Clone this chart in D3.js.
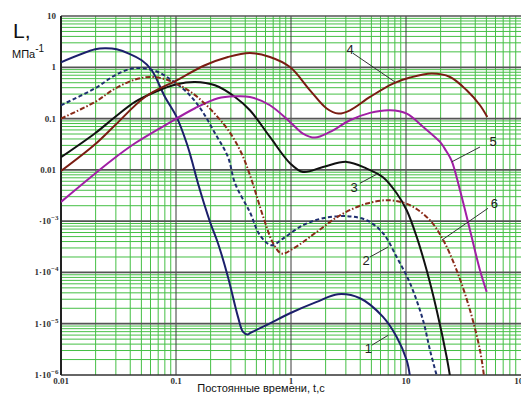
<!DOCTYPE html>
<html><head><meta charset="utf-8">
<script src="https://cdn.jsdelivr.net/npm/d3@7"></script>
<style>body{margin:0;background:#fff;}svg{display:block;}</style>
</head><body>
<svg id="c" width="521" height="394"></svg>
<script>
// ---- data (t in s, L in MPa^-1) ----
const c1_t = [0.01,0.0198,0.0241,0.0305,0.0503,0.0615,0.0802,0.1014,0.1239,0.1371,0.1552,0.1977,0.2317,0.2831,0.3459,0.3829,0.4198,0.4395,0.6562,0.98,1.673,2.563,3.981,6.31,8.299,10.14,10.84];
const c1_L = [1.25,2.24,2.35,2.24,1.37,0.874,0.264,0.107,0.0330,0.0154,0.00548,0.000964,0.000371,8.17e-5,1.36e-5,6.92e-6,6.16e-6,6.53e-6,1.02e-5,1.60e-5,2.66e-5,3.76e-5,3.14e-5,1.36e-5,5.53e-6,1.94e-6,9.2e-7];
const c2_t = [0.01,0.0198,0.0295,0.0412,0.0538,0.0697,0.0918,0.1271,0.1671,0.2183,0.2831,0.3259,0.4395,0.537,0.6786,0.8513,1.271,1.898,3.05,4.553,6.31,8.299,10.84,14.06,16.17,18.62];
const c2_L = [0.182,0.390,0.698,0.944,0.944,0.810,0.558,0.311,0.145,0.0517,0.0178,0.00548,0.00149,0.000531,0.000339,0.000458,0.000832,0.00114,0.00125,0.00104,0.000581,0.000200,6.15e-5,1.17e-5,3.04e-6,9.2e-7];
const c3_t = [0.01,0.0198,0.0295,0.044,0.0657,0.1014,0.1462,0.2183,0.3259,0.4395,0.6562,0.98,1.271,1.898,3.05,4.553,6.31,8.299,10.14,12.39,15.13,18.49,22.57,24.13];
const c3_L = [0.0176,0.0517,0.107,0.211,0.330,0.466,0.517,0.446,0.264,0.145,0.0438,0.0135,0.00910,0.0114,0.0143,0.0106,0.00718,0.00350,0.00163,0.000492,0.000110,1.83e-5,2.25e-6,9.5e-7];
const c4_t = [0.01,0.0198,0.0295,0.0538,0.1014,0.1786,0.2831,0.4395,0.6562,0.98,1.463,2.043,2.578,3.26,4.864,7.709,10.84,16.73,24.13,33.72,43.99,50.92];
const c4_L = [0.0095,0.0316,0.074,0.264,0.558,1.094,1.59,1.90,1.59,1.01,0.356,0.157,0.125,0.145,0.264,0.481,0.630,0.754,0.647,0.356,0.182,0.107];
const c5_t = [0.01,0.0276,0.044,0.0802,0.1462,0.2317,0.3259,0.4395,0.6562,0.98,1.271,1.617,2.183,3.26,4.864,7.261,10.14,14.13,19.76,22.3,24.96,29.49,36.04,43.99,50.32];
const c5_L = [0.00237,0.0154,0.0330,0.074,0.159,0.249,0.272,0.264,0.182,0.0859,0.051,0.0426,0.0548,0.0927,0.129,0.145,0.125,0.0686,0.035,0.0236,0.0150,0.0040,0.000665,0.00011,4.17e-5];
const c6_t = [0.01,0.0198,0.0295,0.044,0.0615,0.0857,0.128,0.191,0.2849,0.3722,0.455,0.5736,0.7014,0.83,1.047,1.673,2.668,4.553,7.261,10.84,16.17,21.11,27.58,36.04,43.99,47.68];
const c6_L = [0.100,0.211,0.384,0.575,0.647,0.558,0.356,0.168,0.0591,0.0208,0.00627,0.00121,0.000366,0.000233,0.000292,0.000616,0.00130,0.00220,0.00255,0.00204,0.00104,0.000424,0.00011,1.83e-5,3.04e-6,9.5e-7];

const seriesNames = ["1","2","3","4","5","6"];
const seriesColors = ["#1c1f6b","#1f2f70","#111111","#7a1c12","#a11fa5","#8a2a18"];
const seriesDash = [null,"4,2.5",null,null,null,"5,2,1.5,2"];

const xTicks = [0.01,0.1,1,10,100];
const xTickLabels = ["0.01","0.1","1","10","100"];
const yTicks = [10,1,0.1,0.01,1e-3,1e-4,1e-5,1e-6];
const yTickMain = ["10","1","0.1","0.01","·10","1·10","1·10","1·10"];
const yTickSup  = ["","","","","−3","−4","−5","−6"];

// annotation: label position and leader line (data units)
const annText = ["4","5","3","6","2","1"];
const annPos  = [[3.26,2.24],[57.1,0.035],[3.53,0.00452],[58.6,0.0022],[4.49,0.000173],[4.70,3.29e-6]];
const annFrom = [[3.46,1.875],[43.99,0.0279],[3.98,0.00548],[51.6,0.00178],[4.86,0.0002],[5.04,3.81e-6]];
const annTo   = [[8.02,0.517],[24.96,0.0143],[5.56,0.0082],[20.4,0.000424],[7.01,0.000314],[7.01,5.97e-6]];

// ---- drawing ----
const svg = d3.select("#c");
const x = d3.scaleLog().domain([0.01,100]).range([61,521]);
const y = d3.scaleLog().domain([1e-6,10]).range([375,16]);

svg.append("defs").append("clipPath").attr("id","pc")
  .append("rect").attr("x",61).attr("y",16).attr("width",460).attr("height",359);

// grid minor
const g = svg.append("g");
const minorX=[], minorY=[];
for (let d=0.01; d<99; d*=10) for (let k=2;k<=9;k++) minorX.push(d*k);
for (let d=1e-6; d<9; d*=10) for (let k=2;k<=9;k++) minorY.push(d*k);
g.selectAll(".mx").data(minorX).join("line")
  .attr("x1",d=>x(d)).attr("x2",d=>x(d)).attr("y1",y(10)).attr("y2",y(1e-6))
  .attr("stroke","#45bf45").attr("stroke-width",1);
g.selectAll(".my").data(minorY).join("line")
  .attr("y1",d=>y(d)).attr("y2",d=>y(d)).attr("x1",x(0.01)).attr("x2",x(100))
  .attr("stroke","#45bf45").attr("stroke-width",1);
// major
g.selectAll(".Mx").data([0.1,1,10]).join("line")
  .attr("x1",d=>x(d)).attr("x2",d=>x(d)).attr("y1",y(10)).attr("y2",y(1e-6))
  .attr("stroke","#3a3a3a").attr("stroke-width",1);
g.selectAll(".My").data([1,0.1,0.01,1e-3,1e-4,1e-5]).join("line")
  .attr("y1",d=>y(d)).attr("y2",d=>y(d)).attr("x1",x(0.01)).attr("x2",x(100))
  .attr("stroke","#555").attr("stroke-width",1.8);
// frame
g.append("line").attr("x1",x(0.01)).attr("x2",x(100)).attr("y1",y(10)).attr("y2",y(10)).attr("stroke","#555").attr("stroke-width",1.5);
g.append("line").attr("x1",x(0.01)).attr("x2",x(100)).attr("y1",y(1e-6)).attr("y2",y(1e-6)).attr("stroke","#333").attr("stroke-width",1.5);
g.append("line").attr("x1",x(0.01)).attr("x2",x(0.01)).attr("y1",y(10)).attr("y2",y(1e-6)).attr("stroke","#222").attr("stroke-width",2);

// curves
const allT=[c1_t,c2_t,c3_t,c4_t,c5_t,c6_t], allL=[c1_L,c2_L,c3_L,c4_L,c5_L,c6_L];
const line = d3.line().x(d=>x(d[0])).y(d=>y(d[1])).curve(d3.curveCatmullRom.alpha(0.5));
const cg = svg.append("g").attr("clip-path","url(#pc)");
seriesNames.forEach((n,i)=>{
  const pts = allT[i].map((t,j)=>[t,allL[i][j]]);
  cg.append("path").datum(pts).attr("d",line).attr("fill","none")
    .attr("stroke",seriesColors[i]).attr("stroke-width",2)
    .attr("stroke-dasharray",seriesDash[i]);
});

// annotations
annText.forEach((t,i)=>{
  svg.append("line").attr("x1",x(annFrom[i][0])).attr("y1",y(annFrom[i][1]))
    .attr("x2",x(annTo[i][0])).attr("y2",y(annTo[i][1])).attr("stroke","#333").attr("stroke-width",1);
  svg.append("text").attr("x",x(annPos[i][0])).attr("y",y(annPos[i][1]))
    .attr("text-anchor","middle").attr("dominant-baseline","central")
    .attr("font-family","Liberation Sans, Arial, sans-serif").attr("font-size",13).attr("fill","#222").text(t);
});

// tick labels
const xt = svg.append("g").attr("font-family","Liberation Serif, serif").attr("font-size",9).attr("font-weight","bold").attr("fill","#333");
xTicks.forEach((v,i)=>{
  xt.append("text").attr("x",x(v)).attr("y",384).attr("text-anchor","middle").text(xTickLabels[i]);
});
const yt = svg.append("g").attr("font-family","Liberation Serif, serif").attr("font-size",9).attr("font-weight","bold").attr("fill","#333");
yTicks.forEach((v,i)=>{
  yt.append("text").attr("x",yTickSup[i]?51:56).attr("y",y(v)+3).attr("text-anchor","end").text(yTickMain[i]);
  if (yTickSup[i]) {
    yt.append("text").attr("x",51).attr("y",y(v)-1).attr("font-size",7).text(yTickSup[i]);
  }
});

// titles
svg.append("text").attr("x",13).attr("y",38).attr("font-family","Liberation Sans, Arial, sans-serif")
  .attr("font-size",21).attr("fill","#111").text("L,");
const ut = svg.append("text").attr("x",12).attr("y",58).attr("font-family","Liberation Sans, Arial, sans-serif")
  .attr("font-size",11).attr("fill","#111");
ut.append("tspan").text("МПа");
ut.append("tspan").attr("dy",-6).attr("font-size",10).text("-1");
svg.append("text").attr("x",261).attr("y",392).attr("text-anchor","middle")
  .attr("font-family","Liberation Sans, Arial, sans-serif").attr("font-size",11).attr("fill","#111")
  .text("Постоянные времени, t,c");
</script>
</body></html>
